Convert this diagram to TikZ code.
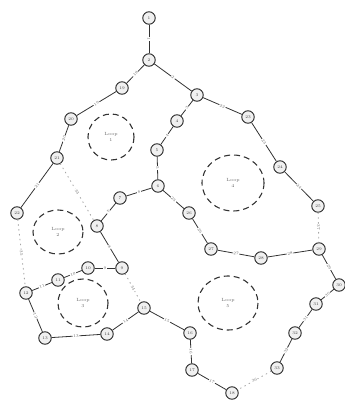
\documentclass[tikz,border=0pt]{standalone}
\usetikzlibrary{arrows.meta,positioning,calc}
\tikzset{
  busnode/.style={circle, draw=black!85, line width=0.9pt, fill=gray!12,
    minimum size=12.5pt, inner sep=0pt, font=\fontsize{4}{4}\selectfont, text=black!75},
  lineln/.style={line width=0.8pt, black!80},
  tieln/.style={line width=0.9pt, gray!70, dash pattern=on 0.9pt off 4pt, line cap=round},
  brlabel/.style={sloped, fill=white, inner sep=0.6pt, font=\fontsize{4}{4}\selectfont, text=black!60},
  loopln/.style={line width=1.1pt, black!80, dash pattern=on 6pt off 4pt},
  looptxt/.style={align=center, font=\fontsize{4.5}{5.5}\selectfont, text=black!60},
}
\begin{document}
\begin{tikzpicture}[x=1pt, y=-1pt]
    \useasboundingbox (0,0) rectangle (345,405);
    % Loops
    \draw[loopln] (111,137) ellipse (23 and 23);
    \draw[loopln] (58,232) ellipse (25 and 22);
    \draw[loopln] (83,303) ellipse (25 and 24);
    \draw[loopln] (233,183) ellipse (31 and 28);
    \draw[loopln] (228,303) ellipse (30 and 27);
    \node[looptxt] (loop1) at (111,137) {Loop\\1};
    \node[looptxt] (loop2) at (58,232) {Loop\\2};
    \node[looptxt] (loop3) at (83,303) {Loop\\3};
    \node[looptxt] (loop4) at (233,183) {Loop\\4};
    \node[looptxt] (loop5) at (228,303) {Loop\\5};
    % Buses
    \foreach \i/\x/\y in {1/149/18, 2/149/60, 3/197/95, 4/177/121, 5/157/150,
        6/158/186, 7/120/198, 8/97/226, 9/122/268, 10/88/268, 11/58/280,
        12/26/293, 13/45/338, 14/107/334, 15/144/308, 16/190/333, 17/192/370,
        18/232/393, 19/122/88, 20/71/119, 21/57/158, 22/17/213, 23/248/117,
        24/280/167, 25/318/206, 26/189/213, 27/211/249, 28/261/258,
        29/319/249, 30/339/285, 31/316/304, 32/295/333, 33/277/368}
      \node[busnode] (b\i) at (\x,\y) {\i};
    % Branches
    \foreach \a/\b/\k in {1/2/1, 2/3/2, 3/4/3, 4/5/4, 5/6/5, 6/7/6, 7/8/7,
        8/9/8, 9/10/9, 10/11/10, 11/12/11, 12/13/12, 13/14/13, 14/15/14,
        15/16/15, 16/17/16, 17/18/17, 2/19/18, 19/20/19, 20/21/20, 21/22/21,
        3/23/22, 23/24/23, 24/25/24, 6/26/25, 26/27/26, 27/28/27, 28/29/28,
        29/30/29, 30/31/30, 31/32/31, 32/33/32}
      \draw[lineln] (b\a) -- node[brlabel] {\k} (b\b);
    % Tie switches
    \foreach \a/\b/\k in {21/8/33, 9/15/34, 22/12/35, 33/18/36, 25/29/37}
      \draw[tieln] (b\a) -- node[brlabel] {\k} (b\b);
\end{tikzpicture}
\end{document}
